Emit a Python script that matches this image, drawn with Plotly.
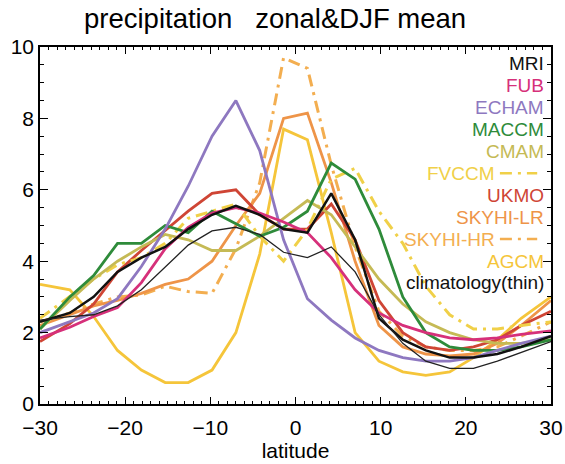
import plotly.graph_objects as go

lat = [-30, -26.5, -23.7, -20.9, -18.1, -15.3, -12.6, -9.8, -7.0, -4.2, -1.4,
       1.4, 4.2, 7.0, 9.8, 12.6, 15.3, 18.1, 20.9, 23.7, 26.5, 30]

mri = [2.3, 2.55, 3.0, 3.7, 4.1, 4.4, 4.9, 5.3, 5.55, 5.3, 4.9,
       4.8, 5.9, 4.6, 2.4, 1.8, 1.5, 1.3, 1.3, 1.4, 1.6, 1.9]
fub = [1.85, 2.15, 2.45, 2.7, 3.4, 4.35, 4.95, 5.35, 5.5, 5.35, 5.1,
       4.8, 4.1, 3.2, 2.55, 2.2, 2.0, 1.85, 1.8, 1.85, 1.95, 2.05]
echam = [2.0, 2.3, 2.55, 2.95, 3.85, 4.9, 6.1, 7.5, 8.5, 7.1, 4.6,
         2.95, 2.35, 1.85, 1.5, 1.3, 1.2, 1.2, 1.3, 1.5, 1.7, 1.9]
maccm = [2.1, 3.0, 3.6, 4.5, 4.5, 5.0, 4.8, 5.4, 5.05, 4.7, 4.95,
         5.4, 6.75, 6.3, 4.9, 3.0, 2.0, 1.6, 1.5, 1.5, 1.6, 1.8]
cmam = [2.1, 2.9, 3.5, 4.0, 4.4, 4.75, 4.6, 4.3, 4.3, 4.7, 5.2,
        5.7, 5.3, 4.4, 3.5, 2.8, 2.3, 2.0, 1.8, 1.7, 1.7, 1.8]
fvccm = [2.4, 3.0, 3.5, 3.9, 4.1, 4.5, 5.2, 5.4, 5.6, 4.7, 4.0,
         4.9, 6.3, 6.6, 5.4, 4.5, 3.3, 2.5, 2.1, 2.1, 2.2, 2.3]
ukmo = [1.75, 2.25, 2.8, 3.7, 4.3, 4.85, 5.4, 5.9, 6.0, 5.3, 4.9,
        4.9, 5.6, 4.6, 2.9, 2.0, 1.6, 1.5, 1.6, 1.8, 2.2, 2.6]
skyhi_lr = [2.2, 2.5, 2.75, 2.9, 3.1, 3.35, 3.5, 4.0, 5.0, 5.9, 8.0,
            8.15, 6.2, 4.0, 2.2, 1.6, 1.4, 1.35, 1.4, 1.7, 2.2, 2.9]
skyhi_hr = [2.3, 2.55, 2.8, 3.0, 3.05, 3.3, 3.15, 3.1, 4.35, 6.2, 9.7,
            9.4, 6.7, 4.4, 2.6, 1.9, 1.6, 1.5, 1.5, 1.6, 1.9, 2.3]
agcm = [3.35, 3.2, 2.45, 1.5, 0.95, 0.6, 0.6, 0.95, 2.0, 4.2, 7.7,
        7.4, 4.8, 2.0, 1.2, 0.9, 0.8, 0.9, 1.3, 1.8, 2.4, 3.0]
clim = [2.35, 2.45, 2.5, 2.75, 3.2, 3.85, 4.45, 4.85, 4.95, 4.75, 4.25,
        4.1, 4.4, 3.7, 2.5, 1.7, 1.2, 1.0, 1.0, 1.2, 1.45, 1.75]

names = ["MRI", "FUB", "ECHAM", "MACCM", "CMAM", "FVCCM", "UKMO",
         "SKYHI-LR", "SKYHI-HR", "AGCM", "climatology(thin)"]
series = [mri, fub, echam, maccm, cmam, fvccm, ukmo, skyhi_lr, skyhi_hr, agcm, clim]
colors = ["#111111", "#D6307A", "#8E78C0", "#2E8B3A", "#C5BA55", "#F0D048",
          "#CF4535", "#EE9448", "#F3AE50", "#F5C53A", "#222222"]
dashes = ["solid", "solid", "solid", "solid", "solid", "12px,6px,3px,6px",
          "solid", "solid", "12px,6px,3px,6px", "solid", "solid"]
widths = [2.5, 2.8, 2.8, 2.8, 2.8, 3, 2.8, 2.8, 3, 2.8, 1.3]

FONT = "Liberation Sans, Arial, Helvetica, sans-serif"

fig = go.Figure()
order = [9, 8, 7, 6, 5, 4, 3, 2, 1, 0, 10]
for i in order:
    fig.add_trace(go.Scatter(x=lat, y=series[i], mode="lines", name=names[i],
                             line=dict(color=colors[i], width=widths[i], dash=dashes[i]),
                             showlegend=False))

# legend as right-aligned text
y0 = 0.954
dy = 0.0615
for k, nm in enumerate(names):
    xr = 0.99
    if nm in ("FVCCM", "SKYHI-HR"):
        xr = 0.895
    fig.add_annotation(x=xr, y=y0 - k * dy, xref="paper", yref="paper", text=nm,
                       showarrow=False, xanchor="right", yanchor="middle",
                       font=dict(family=FONT, size=19, color=colors[k] if k < 10 else "#111111"))
    if nm in ("FVCCM", "SKYHI-HR"):
        yy = y0 - k * dy
        fig.add_shape(type="line", xref="paper", yref="paper", x0=0.9, x1=0.973,
                      y0=yy, y1=yy, line=dict(color=colors[k], width=2.5, dash="12px,6px,3px,6px"))

fig.add_annotation(x=0.46, y=1.0, xref="paper", yref="paper", yshift=29,
                   text="precipitation   zonal&DJF mean", showarrow=False,
                   xanchor="center", yanchor="middle",
                   font=dict(family=FONT, size=27.5, color="black"))

fig.update_layout(
    width=565, height=464,
    margin=dict(l=40, r=14, t=47, b=60),
    paper_bgcolor="white", plot_bgcolor="white",
    font=dict(family=FONT, size=21, color="black"),
    xaxis=dict(range=[-30, 30], tickvals=[-30, -20, -10, 0, 10, 20, 30],
               ticks="inside", ticklen=7, tickwidth=1, tickcolor="black",
               showline=True, linecolor="black", linewidth=1.5, mirror="allticks",
               showgrid=False, zeroline=False, ticklabelstandoff=4, automargin=False,
               title=dict(text="latitude", font=dict(size=21), standoff=2),
               tickfont=dict(size=21),
               minor=dict(dtick=1, ticks="inside", ticklen=3, tickcolor="black", showgrid=False)),
    yaxis=dict(range=[0, 10], tickvals=[0, 2, 4, 6, 8, 10],
               ticks="inside", ticklen=8, tickwidth=1, tickcolor="black",
               showline=True, linecolor="black", linewidth=1.5, mirror="allticks",
               showgrid=False, zeroline=False, tickfont=dict(size=21), automargin=False,
               minor=dict(dtick=0.5, ticks="inside", ticklen=4, tickcolor="black", showgrid=False)),
)

fig.write_html("out.html")
